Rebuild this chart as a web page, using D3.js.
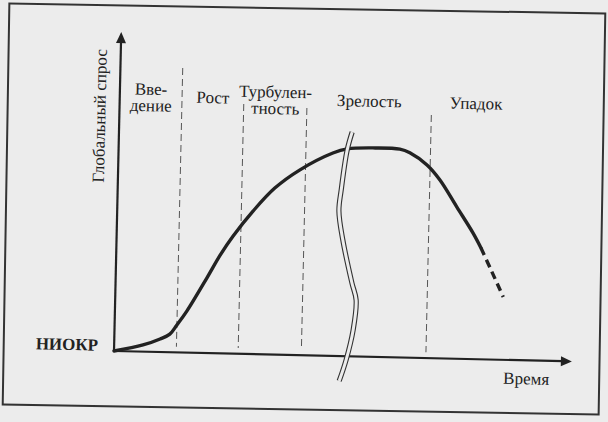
<!DOCTYPE html>
<html>
<head>
<meta charset="utf-8">
<script src="https://cdn.jsdelivr.net/npm/d3@7/dist/d3.min.js"></script>
<style>
  html, body { margin: 0; padding: 0; background: #ececec; }
  svg { display: block; }
</style>
</head>
<body>
<svg id="chart" width="608" height="422"></svg>
<script>
// ---------- data ----------
// Product life cycle: time (0–100) vs global demand (0–100)
const timeSolid   = [0, 6.3, 10.0, 12.1, 13.6, 15.7, 19.9, 22.7, 25.4, 29.7, 34.3, 39.7, 46.8, 49.9, 56.0, 61.4, 63.6, 67.4, 70.3, 74.1, 77.8, 79.6];
const demandSolid = [0, 2.1, 4.1, 5.7, 8.6, 13.0, 23.5, 30.8, 36.8, 44.9, 52.2, 58.1, 63.6, 65.0, 65.5, 65.3, 64.2, 60.5, 55.9, 47.6, 39.5, 34.9];
const timeForecast   = [79.6, 82.1, 84.7];
const demandForecast = [34.9, 27.5, 19.7];

const phaseBounds = [0, 13.6, 27.1, 40.9, 68.1, 87.5];
const dividerTops = [89.2, 78.3, 77.5, 76.2];
const phaseLabels = [["Вве-", "дение"], ["Рост"], ["Турбулен-", "тность"], ["Зрелость"], ["Упадок"]];

const breakTime   = [50.9, 49.9, 48.8, 48.4, 49.4, 51.6, 52.6, 52.1, 50.7, 49.3];
const breakDemand = [70.3, 64.6, 52.1, 45.5, 36.4, 23.0, 17.7, 8.3, -1.2, -7.8];

const yAxisTitle = "Глобальный спрос";
const xAxisTitle = "Время";
const originLabel = "НИОКР";

// ---------- drawing ----------
const svg = d3.select("#chart");
const bg = "#ececec";
const font = "Liberation Serif";
const ink = "#222";

// page frame (slightly skewed scan)
svg.append("rect")
  .attr("x", 6).attr("y", 8.5).attr("width", 596).attr("height", 401)
  .attr("fill", bg).attr("stroke", "#333").attr("stroke-width", 2)
  .attr("transform", "rotate(0.95,304,209)");

const origin = [114, 351];
const g = svg.append("g")
  .attr("transform", `translate(${origin[0]},${origin[1]}) rotate(1.3)`);

const x = d3.scaleLinear().domain([0, 100]).range([0, 458]);
const y = d3.scaleLinear().domain([0, 100]).range([0, -319]);

// phase dividers
g.selectAll("line.div")
  .data(phaseBounds.slice(1, 5))
  .join("line")
  .attr("class", "div")
  .attr("x1", d => x(d)).attr("x2", d => x(d))
  .attr("y1", (d, i) => y(dividerTops[i])).attr("y2", y(1.8))
  .attr("stroke", "#555").attr("stroke-width", 1)
  .attr("stroke-dasharray", "7,4");

// axes with arrowheads
g.append("line").attr("x1", 0).attr("y1", 0).attr("x2", 0).attr("y2", y(100) + 9)
  .attr("stroke", ink).attr("stroke-width", 2.2);
g.append("line").attr("x1", 0).attr("y1", 0).attr("x2", x(100) - 9).attr("y2", 0)
  .attr("stroke", ink).attr("stroke-width", 2.2);
g.append("path").attr("d", `M0,${y(100)} L-5,${y(100) + 11} L5,${y(100) + 11} Z`).attr("fill", ink);
g.append("path").attr("d", `M${x(100)},0 L${x(100) - 11},-5 L${x(100) - 11},5 Z`).attr("fill", ink);

// life-cycle curve
const line = d3.line().x(d => x(d[0])).y(d => y(d[1])).curve(d3.curveCatmullRom.alpha(0.5));
g.append("path").datum(timeSolid.map((t, i) => [t, demandSolid[i]])).attr("d", line)
  .attr("fill", "none").attr("stroke", ink).attr("stroke-width", 3.4).attr("stroke-linecap", "round");
g.append("path").datum(timeForecast.map((t, i) => [t, demandForecast[i]])).attr("d", line)
  .attr("fill", "none").attr("stroke", ink).attr("stroke-width", 3.4).attr("stroke-dasharray", "8,5");

// axis break (double wavy line)
const brk = breakTime.map((t, i) => [t, breakDemand[i]]);
g.append("path").datum(brk).attr("d", line).attr("fill", "none").attr("stroke", "#333").attr("stroke-width", 5.2);
g.append("path").datum(brk).attr("d", line).attr("fill", "none").attr("stroke", bg).attr("stroke-width", 3);

// phase labels
const fs = 17;
phaseLabels.forEach((lines, i) => {
  const cx = x((phaseBounds[i] + phaseBounds[i + 1]) / 2);
  const t = g.append("text").attr("text-anchor", "middle").attr("font-size", fs)
    .attr("font-family", font).attr("fill", ink);
  if (lines.length === 1) {
    t.append("tspan").attr("x", cx).attr("y", -250).text(lines[0]);
  } else {
    t.append("tspan").attr("x", cx).attr("y", -257).text(lines[0]);
    t.append("tspan").attr("x", cx).attr("y", -240.5).text(lines[1]);
  }
});

// axis titles
g.append("text")
  .attr("transform", `translate(-14,${y(73.6)}) rotate(-90)`)
  .attr("text-anchor", "middle").attr("font-size", fs).attr("font-family", font).attr("fill", ink)
  .text(yAxisTitle);
g.append("text").attr("x", x(85.1)).attr("y", 24).attr("font-size", fs)
  .attr("font-family", font).attr("fill", ink).text(xAxisTitle);
g.append("text").attr("x", -16).attr("y", 0).attr("text-anchor", "end")
  .attr("font-size", 17).attr("font-weight", "bold").attr("font-family", font).attr("fill", ink)
  .text(originLabel);
</script>
</body>
</html>
